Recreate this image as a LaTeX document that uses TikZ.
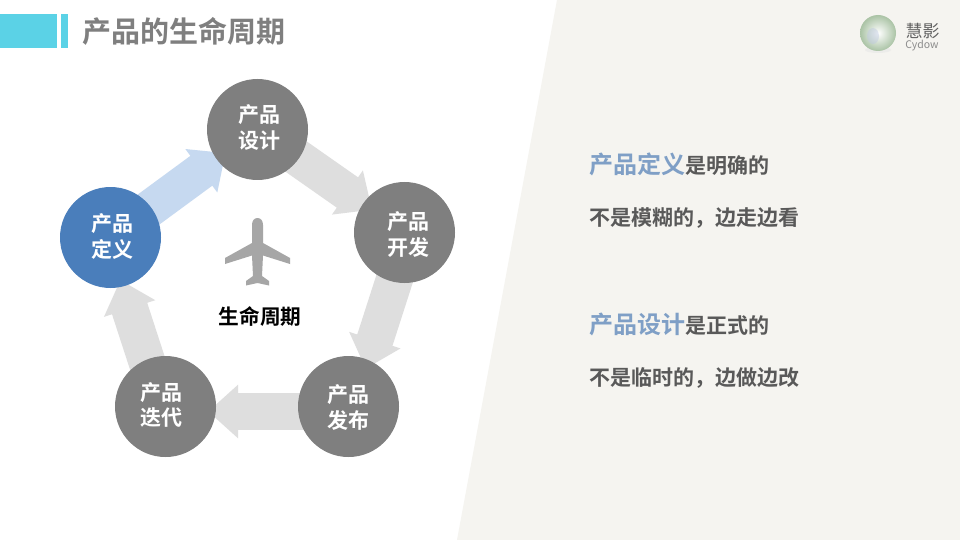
\documentclass[tikz,border=0pt]{standalone}
\usepackage{fontspec}
\setmainfont{Noto Sans CJK SC}
\newfontfamily\cjkb{Noto Sans CJK SC Bold}
\usetikzlibrary{arrows.meta}
\pgfdeclarelayer{bglayer}
\pgfdeclarelayer{flowlayer}
\pgfsetlayers{bglayer,flowlayer,main}
\definecolor{beige}{HTML}{F5F4F0}
\definecolor{cyanbar}{HTML}{5BD2E6}
\definecolor{greyt}{HTML}{7F7F7F}
\definecolor{greyc}{HTML}{7F7F7F}
\definecolor{bluec}{HTML}{4A7EBB}
\definecolor{bluet}{HTML}{7F9FC6}
\definecolor{arrowg}{HTML}{DEDEDE}
\definecolor{arrowb}{HTML}{C6D9F0}
\definecolor{body}{HTML}{595959}
\definecolor{plane}{HTML}{A6A6A6}
\tikzset{
 stage/.style={circle,fill=greyc,minimum size=101pt,inner sep=0pt},
 stagetxt/.style={text=white,inner sep=0pt,align=center,font=\cjkb\fontsize{21pt}{25.5pt}\selectfont},
 flow/.style={line width=37pt,draw=arrowg,-{Triangle[length=30pt,width=52pt,color=arrowg]},shorten >=-11pt,shorten <=-25pt},
 flowb/.style={flow,draw=arrowb,-{Triangle[length=30pt,width=52pt,color=arrowb]}},
 bodytxt/.style={anchor=west,inner sep=0pt,text=body,font=\cjkb\fontsize{21pt}{26pt}\selectfont},
}
\begin{document}
\begin{tikzpicture}[x=1pt,y=-1pt]
\useasboundingbox (0,0) rectangle (960,540);
\begin{pgfonlayer}{bglayer}
\fill[white] (0,0) rectangle (960,540);
\fill[beige] (557,0) -- (960,0) -- (960,540) -- (457,540) -- cycle;
\end{pgfonlayer}
\fill[cyanbar] (0,14) rectangle (57,48);
\fill[cyanbar] (61,14) rectangle (68,48);
\node[anchor=west,inner sep=0pt,text=greyt,font=\cjkb\fontsize{29pt}{34pt}\selectfont] (title) at (82,31) {产品的生命周期};
% logo
\fill[black!10,opacity=.5] (878,50) ellipse (13 and 3);
\shade[inner color=white,middle color={rgb,255:red,238;green,216;blue,165},outer color={rgb,255:red,170;green,195;blue,165}] (878,33) circle (18);
\shade[inner color={rgb,255:red,190;green,200;blue,225},outer color={rgb,255:red,190;green,200;blue,225},opacity=.45] (873,36) ellipse (6 and 8);
\node[inner sep=0pt,text=black!62,font=\fontsize{17pt}{19pt}\selectfont] (logo) at (922.5,30.5) {慧影};
\node[inner sep=0pt,text=black!45,font=\fontsize{10.5pt}{12pt}\selectfont] (logot) at (922,46) {Cydow};
% stages
\node[stage,fill=bluec,label={[stagetxt,xshift=1.5pt,yshift=1pt]center:产品\\定义}] (def) at (110.5,237.5) {};
\node[stage,label={[stagetxt,xshift=2pt,yshift=2pt]center:产品\\设计}] (des) at (257.5,129.5) {};
\node[stage,label={[stagetxt,xshift=3.5pt,yshift=-2pt]center:产品\\开发}] (dev) at (404.5,232.5) {};
\node[stage,label={[stagetxt,xshift=-.5pt,yshift=-1pt]center:产品\\发布}] (rel) at (348.5,406.5) {};
\node[stage,label={[stagetxt,xshift=-4.5pt,yshift=1.5pt]center:产品\\迭代}] (ite) at (165.5,406.5) {};
\begin{pgfonlayer}{flowlayer}
\draw[flowb] (def) -- (des);
\draw[flow] (des) -- (dev);
\draw[flow,transform canvas={xshift=5pt}] (dev) -- (rel);
\draw[flow,shorten >=-8pt,transform canvas={yshift=-5pt}] (rel) -- (ite);
\draw[flow,shorten >=-6pt,transform canvas={xshift=-4pt}] (ite) -- (def);
\end{pgfonlayer}
% plane
\fill[plane] (257.5,218) .. controls (254,218) and (252,221) .. (252,225)
 -- (252,243) -- (225,258) -- (225,264) -- (252,255.5) -- (253,276) -- (246,281) -- (246,285.5) -- (257.5,283)
 -- (269,285.5) -- (269,281) -- (262,276) -- (263,255.5) -- (290,264) -- (290,258) -- (263,243) -- (263,225)
 .. controls (263,221) and (261,218) .. (257.5,218) -- cycle;
\node[inner sep=0pt,text=black,font=\cjkb\fontsize{20.7pt}{24pt}\selectfont] (life) at (260,317) {生命周期};
% right text
\node[bodytxt] (t1) at (589,164.5) {\textcolor{bluet}{\fontsize{24pt}{26pt}\selectfont 产品定义}是明确的};
\node[bodytxt] (t2) at (589,218) {不是模糊的，边走边看};
\node[bodytxt] (t3) at (589,324) {\textcolor{bluet}{\fontsize{24pt}{26pt}\selectfont 产品设计}是正式的};
\node[bodytxt] (t4) at (589,378) {不是临时的，边做边改};
\end{tikzpicture}
\end{document}
